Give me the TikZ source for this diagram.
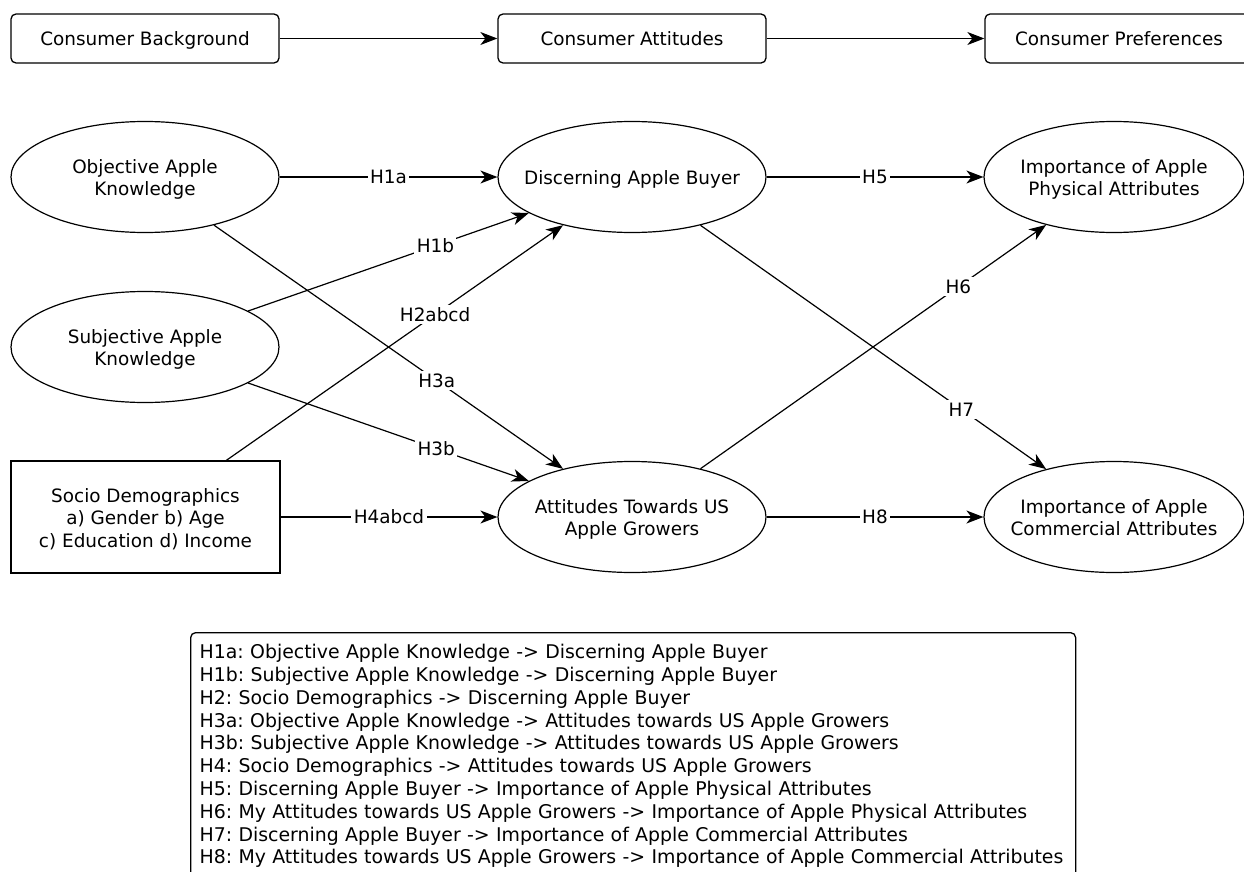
\documentclass[tikz,border=0pt]{standalone}
\usepackage{fontspec}
\setmainfont{DejaVu Sans}
\usetikzlibrary{shapes.geometric,arrows.meta}
\newcommand\ntext[1]{\raisebox{-3pt}[\height][\depth]{\begin{tabular}{@{}c@{}}#1\end{tabular}}}
\begin{document}
\frenchspacing
\begin{tikzpicture}[x=1pt,y=-1pt,
  every node/.style={font=\fontsize{18.4}{22.5}\selectfont},
  topbox/.style={draw,line width=1.3pt,rounded corners=5pt,minimum width=268pt,minimum height=49pt,inner sep=0pt,text height=16pt,text depth=2pt},
  ell/.style={draw,line width=1.2pt,ellipse,inner xsep=-40pt,inner ysep=0pt,minimum width=268pt,minimum height=111pt},
  sqbox/.style={draw,line width=1.2pt,minimum width=269pt,minimum height=112pt,inner sep=0pt},
  arr/.style={line width=1.2pt,-{Stealth[length=17pt,width=13pt,inset=5pt]}},
  lab/.style={fill=white,inner sep=2.5pt}]
\useasboundingbox (0,0) rectangle (1244,872);
\clip (0,0) rectangle (1244,872);
% top row
\node[topbox] (cb) at (145,38.5) {Consumer Background};
\node[topbox] (ca) at (632,38.5) {Consumer Attitudes};
\node[topbox] (cp) at (1119,38.5) {Consumer Preferences};
\draw[arr] (cb) -- (ca);
\draw[arr] (ca) -- (cp);
% model
\node[ell] (obj) at (145,177) {\ntext{Objective Apple\\Knowledge}};
\node[ell] (subj) at (145,347) {\ntext{Subjective Apple\\Knowledge}};
\node[sqbox] (soc) at (145.5,517) {\ntext{Socio Demographics\\a) Gender b) Age\\c) Education d) Income}};
\node[ell] (disc) at (632,177) {\ntext{Discerning Apple Buyer}};
\node[ell] (att) at (632,517) {\ntext{Attitudes Towards US\\Apple Growers}};
\node[ell,minimum width=260pt] (phys) at (1114,177) {\ntext{Importance of Apple\\Physical Attributes}};
\node[ell,minimum width=260pt] (comm) at (1114,517) {\ntext{Importance of Apple\\Commercial Attributes}};
\draw[arr] (obj) -- node[lab,pos=0.5] {H1a} (disc);
\draw[arr] (subj) -- node[lab,pos=0.667] {H1b} (disc);
\draw[arr] (soc) -- node[lab,pos=0.62] {H2abcd} (disc);
\draw[arr] (obj) -- node[lab,pos=0.638] {H3a} (att);
\draw[arr] (subj) -- node[lab,pos=0.67] {H3b} (att);
\draw[arr] (soc) -- node[lab,pos=0.5] {H4abcd} (att);
\draw[arr] (disc) -- node[lab,pos=0.5] {H5} (phys);
\draw[arr] (att) -- node[lab,pos=0.746] {H6} (phys);
\draw[arr] (disc) -- node[lab,pos=0.755] {H7} (comm);
\draw[arr] (att) -- node[lab,pos=0.5] {H8} (comm);
% legend
\node[draw,line width=1.3pt,rounded corners=5pt,anchor=north west,align=left,
  text width=867pt,inner xsep=9pt,inner ysep=11.6pt,
  font=\fontsize{18.9}{22.8}\selectfont] (leg) at (190,632) {%
H1a: Objective Apple Knowledge -> Discerning Apple Buyer\\
H1b: Subjective Apple Knowledge -> Discerning Apple Buyer\\
H2: Socio Demographics -> Discerning Apple Buyer\\
H3a: Objective Apple Knowledge -> Attitudes towards US Apple Growers\\
H3b: Subjective Apple Knowledge -> Attitudes towards US Apple Growers\\
H4: Socio Demographics -> Attitudes towards US Apple Growers\\
H5: Discerning Apple Buyer -> Importance of Apple Physical Attributes\\
H6: My Attitudes towards US Apple Growers -> Importance of Apple Physical Attributes\\
H7: Discerning Apple Buyer -> Importance of Apple Commercial Attributes\\
H8: My Attitudes towards US Apple Growers -> Importance of Apple Commercial Attributes};
\end{tikzpicture}
\end{document}
